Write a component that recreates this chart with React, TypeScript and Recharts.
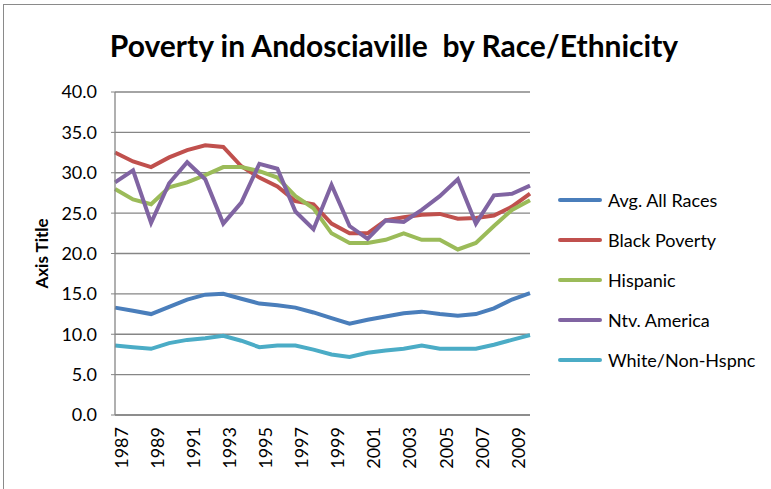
import React from "react";
import {
  LineChart,
  CartesianGrid,
  YAxis,
  XAxis,
  Legend,
  Line
} from "recharts";

const years = [
  1987, 1988, 1989, 1990, 1991, 1992, 1993, 1994, 1995, 1996, 1997, 1998,
  1999, 2000, 2001, 2002, 2003, 2004, 2005, 2006, 2007, 2008, 2009, 2010
];
const avgAllRaces = [
  13.3, 12.9, 12.5, 13.4, 14.3, 14.9, 15.0, 14.4, 13.8, 13.6, 13.3, 12.7,
  12.0, 11.3, 11.8, 12.2, 12.6, 12.8, 12.5, 12.3, 12.5, 13.2, 14.3, 15.1
];
const blackPoverty = [
  32.5, 31.4, 30.7, 31.9, 32.8, 33.4, 33.2, 30.8, 29.4, 28.3, 26.5, 26.1,
  23.7, 22.5, 22.5, 24.1, 24.5, 24.8, 24.9, 24.3, 24.4, 24.7, 25.8, 27.4
];
const hispanic = [
  28.0, 26.7, 26.1, 28.2, 28.8, 29.7, 30.7, 30.7, 30.2, 29.4, 27.1, 25.6,
  22.5, 21.3, 21.3, 21.7, 22.5, 21.7, 21.7, 20.5, 21.3, 23.4, 25.4, 26.6
];
const ntvAmerica = [
  28.8, 30.3, 23.8, 28.7, 31.3, 29.2, 23.7, 26.3, 31.1, 30.5, 25.2, 23.0,
  28.5, 23.4, 21.8, 24.1, 23.9, 25.4, 27.1, 29.2, 23.7, 27.2, 27.4, 28.4
];
const whiteNonHispanic = [
  8.6, 8.4, 8.2, 8.9, 9.3, 9.5, 9.8, 9.2, 8.4, 8.6, 8.6, 8.1,
  7.5, 7.2, 7.7, 8.0, 8.2, 8.6, 8.2, 8.2, 8.2, 8.7, 9.3, 9.9
];
const yTicks = [0, 5, 10, 15, 20, 25, 30, 35, 40];

const series = [
  { key: "avg", name: "Avg. All Races", color: "#4A7EBB", values: avgAllRaces },
  { key: "black", name: "Black Poverty", color: "#C0504D", values: blackPoverty },
  { key: "hisp", name: "Hispanic", color: "#9BBB59", values: hispanic },
  { key: "ntv", name: "Ntv. America", color: "#8064A2", values: ntvAmerica },
  { key: "white", name: "White/Non-Hspnc", color: "#4BACC6", values: whiteNonHispanic }
];

const data = years.map((year, i) => {
  const row: Record<string, number | string> = { year: String(year) };
  series.forEach(s => {
    row[s.key] = s.values[i];
  });
  return row;
});

const FONT = "Lato, 'Liberation Sans', sans-serif";

function LegendBox(props: any) {
  const payload = props.payload || [];
  return (
    <ul style={{ listStyle: "none", margin: 0, padding: 0 }}>
      {payload.map((entry: any, i: number) => (
        <li
          key={i}
          style={{ height: 40, display: "flex", alignItems: "center" }}
        >
          <svg width={44} height={8} style={{ marginRight: 6 }}>
            <line
              x1={2}
              y1={4}
              x2={42}
              y2={4}
              stroke={entry.color}
              strokeWidth={4}
              strokeLinecap="round"
            />
          </svg>
          <span style={{ fontSize: 18, color: "#000", fontFamily: FONT }}>
            {entry.value}
          </span>
        </li>
      ))}
    </ul>
  );
}

function PovertyChart() {
  return (
    <div
      style={{
        position: "absolute",
        left: 0,
        top: 0,
        width: 771,
        height: 489,
        background: "#fff",
        fontFamily: FONT
      }}
    >
      <div
        style={{
          position: "absolute",
          left: 3,
          top: 4,
          right: 0,
          bottom: 0,
          borderLeft: "1px solid #8a8a8a",
          borderTop: "1px solid #8a8a8a"
        }}
      />
      <div
        style={{
          position: "absolute",
          left: 0,
          width: 788,
          top: 27,
          textAlign: "center",
          fontSize: 30,
          fontWeight: "bold",
          color: "#000",
          whiteSpace: "pre"
        }}
      >
        {"Poverty in Andosciaville  by Race/Ethnicity"}
      </div>
      <div style={{ position: "absolute", left: 0, top: 0 }}>
        <LineChart
          width={771}
          height={489}
          data={data}
          margin={{ top: 92, right: 31, left: 35, bottom: 0 }}
        >
          <CartesianGrid vertical={false} stroke="#868686" strokeWidth={1.3} />
          <XAxis
            dataKey="year"
            interval={1}
            height={74}
            tickLine={false}
            tickSize={0}
            tickMargin={12}
            axisLine={{ stroke: "#868686", strokeWidth: 1.3 }}
            angle={-90}
            textAnchor="end"
            tick={{ fill: "#000", fontSize: 18, fontFamily: FONT }}
          />
          <YAxis
            domain={[0, 40]}
            ticks={yTicks}
            width={80}
            tickSize={4}
            tickMargin={14}
            tickFormatter={(v: number) => v.toFixed(1)}
            axisLine={{ stroke: "#868686", strokeWidth: 1.3 }}
            tickLine={{ stroke: "#868686" }}
            tick={{ fill: "#000", fontSize: 18, fontFamily: FONT }}
            label={{
              value: "Axis Title",
              angle: -90,
              position: "insideLeft",
              offset: 7,
              style: {
                textAnchor: "middle",
                fontWeight: "bold",
                fontSize: 17,
                fill: "#000",
                fontFamily: FONT
              }
            }}
          />
          <Legend
            layout="vertical"
            align="right"
            verticalAlign="top"
            content={<LegendBox />}
            wrapperStyle={{ left: 558, top: 180, width: 210 }}
          />
          {series.map(s => (
            <Line
              key={s.key}
              type="linear"
              dataKey={s.key}
              name={s.name}
              stroke={s.color}
              strokeWidth={4}
              dot={false}
              isAnimationActive={false}
            />
          ))}
        </LineChart>
      </div>
    </div>
  );
}

export default function App() {
  return <PovertyChart />;
}
